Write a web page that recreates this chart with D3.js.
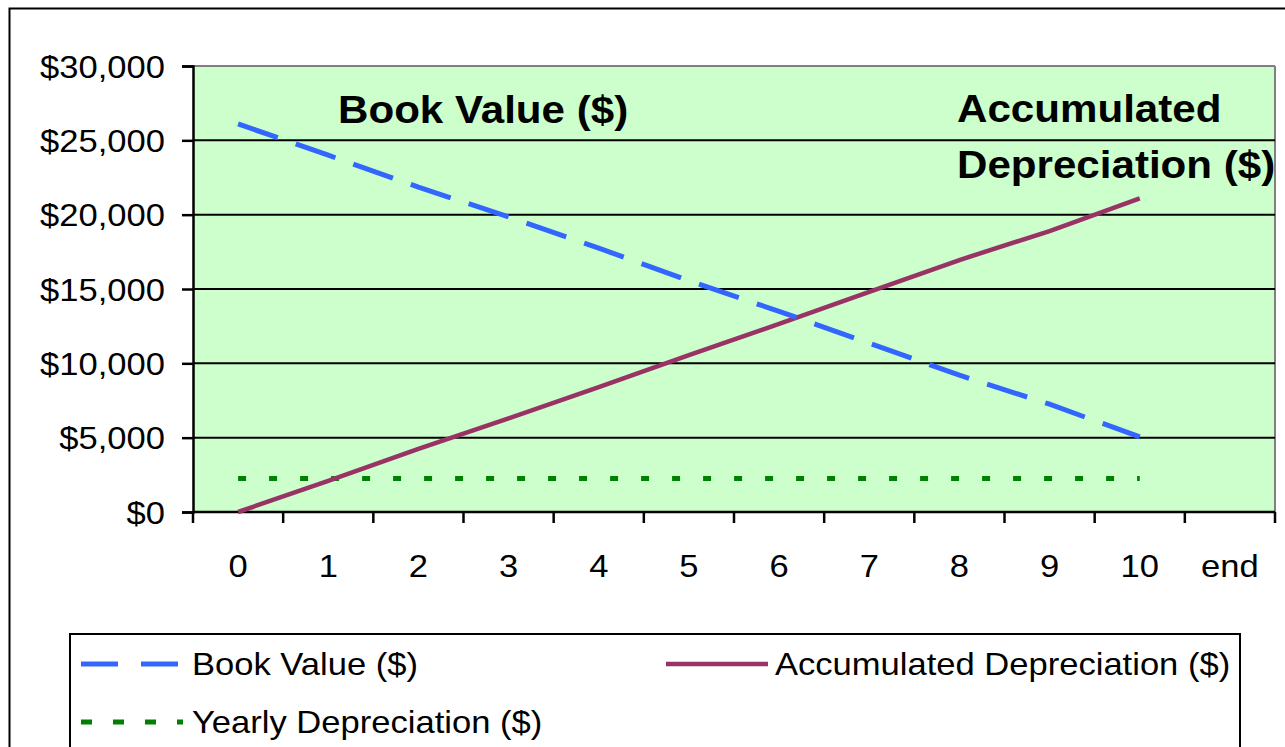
<!DOCTYPE html>
<html>
<head>
<meta charset="utf-8">
<script src="https://cdn.jsdelivr.net/npm/d3@7"></script>
<style>
  html, body { margin: 0; padding: 0; background: #fff; }
  svg { display: block; font-family: "Liberation Sans", Arial, sans-serif; }
</style>
</head>
<body>
<svg id="chart" width="1285" height="747"></svg>
<script>
// Straight-line depreciation schedule, years 0..10 plus an "end" slot
const categories = ["0", "1", "2", "3", "4", "5", "6", "7", "8", "9", "10", "end"];
const years = ["0", "1", "2", "3", "4", "5", "6", "7", "8", "9", "10"];
const bookValue = [26100, 24000, 21850, 19850, 17750, 15550, 13500, 11350, 9200, 7250, 5050];
const accumulatedDepreciation = [0, 2100, 4250, 6300, 8400, 10550, 12650, 14800, 16950, 18900, 21100];
const yearlyDepreciation = [2250, 2250, 2250, 2250, 2250, 2250, 2250, 2250, 2250, 2250, 2250];
const yTicks = [0, 5000, 10000, 15000, 20000, 25000, 30000];

const svg = d3.select("#chart");
const plot = { left: 193, right: 1275, top: 66, bottom: 512 };
const SX = 1.08; // text is drawn slightly widened

const x = d3.scaleBand().domain(categories).range([plot.left, plot.right]);
const y = d3.scaleLinear().domain([0, 30000]).range([plot.bottom, plot.top]);
const fmt = v => "$" + d3.format(",")(v);

// outer chart frame
svg.append("rect").attr("x", 9.5).attr("y", 8.5).attr("width", 1300).attr("height", 800)
  .attr("fill", "#fff").attr("stroke", "#000").attr("stroke-width", 2);

// plot background
svg.append("rect").attr("x", plot.left).attr("y", plot.top)
  .attr("width", plot.right - plot.left).attr("height", plot.bottom - plot.top)
  .attr("fill", "#CCFFCC");
svg.append("line").attr("x1", plot.left).attr("x2", plot.right).attr("y1", plot.top).attr("y2", plot.top)
  .attr("stroke", "#808080").attr("stroke-width", 2);
svg.append("line").attr("x1", plot.right).attr("x2", plot.right).attr("y1", plot.top).attr("y2", plot.bottom)
  .attr("stroke", "#808080").attr("stroke-width", 2);

// horizontal gridlines
svg.append("g").selectAll("line").data(yTicks.filter(d => d > 0 && d < 30000)).join("line")
  .attr("x1", plot.left).attr("x2", plot.right)
  .attr("y1", d => y(d)).attr("y2", d => y(d))
  .attr("stroke", "#000").attr("stroke-width", 2);

// y axis
const yAxis = svg.append("g").attr("transform", `translate(${plot.left},0)`)
  .call(d3.axisLeft(y).tickValues(yTicks).tickFormat(fmt).tickSize(11).tickPadding(0));
yAxis.select(".domain").attr("stroke", "#000").attr("stroke-width", 2.5);
yAxis.selectAll(".tick line").attr("stroke", "#000").attr("stroke-width", 2.5);
yAxis.selectAll(".tick text").attr("font-size", 32).attr("fill", "#000")
  .attr("font-family", "Liberation Sans, Arial, sans-serif")
  .attr("x", 0).attr("dy", null).attr("dominant-baseline", "central")
  .attr("transform", `translate(-28,0) scale(${SX},1)`);

// x axis: ticks on band boundaries, labels at band centres
const xAxisG = svg.append("g");
xAxisG.append("line").attr("x1", plot.left).attr("x2", plot.right)
  .attr("y1", plot.bottom).attr("y2", plot.bottom).attr("stroke", "#000").attr("stroke-width", 2.5);
const bounds = categories.map(c => x(c)).concat([plot.right]);
xAxisG.selectAll("line.tk").data(bounds).join("line").attr("class", "tk")
  .attr("x1", d => d).attr("x2", d => d)
  .attr("y1", plot.bottom).attr("y2", plot.bottom + 11)
  .attr("stroke", "#000").attr("stroke-width", 2.5);
xAxisG.selectAll("text").data(categories).join("text")
  .attr("transform", d => `translate(${x(d) + x.bandwidth() / 2},577) scale(${SX},1)`)
  .attr("text-anchor", "middle").attr("font-size", 32).attr("fill", "#000")
  .text(d => d);

// series lines
const px = (d, i) => x(years[i]) + x.bandwidth() / 2;
const line = d3.line().x((d, i) => px(d, i)).y(d => y(d));

svg.append("path").datum(yearlyDepreciation).attr("d", line)
  .attr("fill", "none").attr("stroke", "#008000").attr("stroke-width", 5)
  .attr("stroke-dasharray", "8,23");
svg.append("path").datum(accumulatedDepreciation).attr("d", line)
  .attr("fill", "none").attr("stroke", "#993366").attr("stroke-width", 4.5);
svg.append("path").datum(bookValue).attr("d", line)
  .attr("fill", "none").attr("stroke", "#3366FF").attr("stroke-width", 5)
  .attr("stroke-dasharray", "42,19");

// in-plot labels
const bold = (txt, tx, ty) => svg.append("text")
  .attr("transform", `translate(${tx},${ty}) scale(${SX},1)`)
  .attr("font-size", 39).attr("font-weight", "bold").attr("fill", "#000").text(txt);
bold("Book Value ($)", 338, 123);
bold("Accumulated", 957, 122);
bold("Depreciation ($)", 957, 178);

// legend
const lg = svg.append("g");
lg.append("rect").attr("x", 70).attr("y", 634).attr("width", 1170).attr("height", 200)
  .attr("fill", "#fff").attr("stroke", "#000").attr("stroke-width", 2);
const legendItems = [
  { name: "Book Value ($)", color: "#3366FF", dash: "37,23", lx: 81, ly: 664, tx: 192, w: 5 },
  { name: "Accumulated Depreciation ($)", color: "#993366", dash: null, lx: 666, ly: 664, tx: 775, w: 4.5 },
  { name: "Yearly Depreciation ($)", color: "#008000", dash: "11,21", lx: 81, ly: 722, tx: 192, w: 5 }
];
legendItems.forEach(it => {
  lg.append("line").attr("x1", it.lx).attr("x2", it.lx + 102)
    .attr("y1", it.ly).attr("y2", it.ly)
    .attr("stroke", it.color).attr("stroke-width", it.w)
    .attr("stroke-dasharray", it.dash);
  lg.append("text").attr("transform", `translate(${it.tx},${it.ly}) scale(${SX},1)`)
    .attr("dominant-baseline", "central").attr("font-size", 32).attr("fill", "#000")
    .text(it.name);
});
</script>
</body>
</html>
